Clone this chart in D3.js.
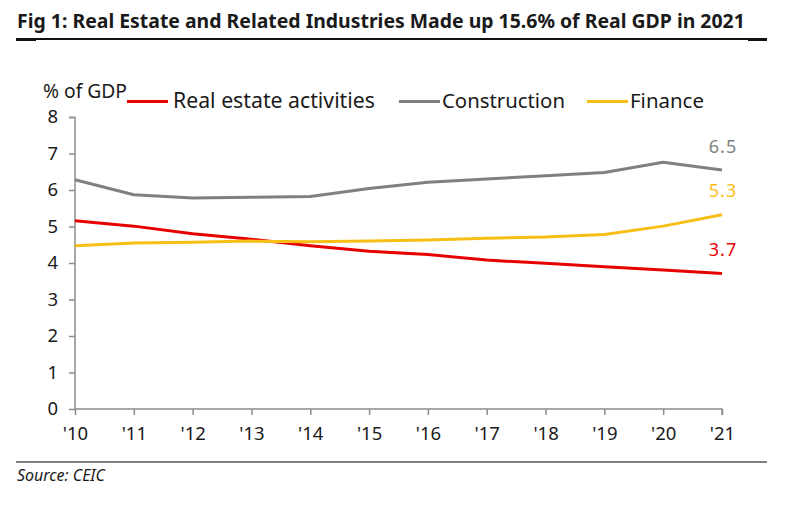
<!DOCTYPE html>
<html><head><meta charset="utf-8">
<script src="https://cdn.jsdelivr.net/npm/d3@7"></script>
<style>
html,body{margin:0;padding:0;background:#fff;}
svg{display:block;font-family:"Noto Sans","DejaVu Sans",sans-serif;}
</style></head>
<body>
<svg id="c" width="800" height="505"></svg>
<script>
const years = ["'10","'11","'12","'13","'14","'15","'16","'17","'18","'19","'20","'21"];
const realEstate = [5.16, 5.01, 4.80, 4.65, 4.47, 4.32, 4.23, 4.08, 3.99, 3.90, 3.81, 3.71];
const construction = [6.28, 5.87, 5.78, 5.80, 5.82, 6.04, 6.21, 6.30, 6.39, 6.48, 6.76, 6.55];
const finance = [4.47, 4.55, 4.57, 4.60, 4.58, 4.60, 4.63, 4.68, 4.71, 4.78, 5.01, 5.32];
const yTicks = [0,1,2,3,4,5,6,7,8];
const seriesNames = ["Real estate activities","Construction","Finance"];
const endLabels = ["3.7","6.5","5.3"];
const colors = ["#e60000","#808080","#f7bf16"];

const svg = d3.select("#c");
const x = d3.scalePoint().domain(years).range([75,722]);
const y = d3.scaleLinear().domain([0,8]).range([409,117]);

function fit(sel, w){
  const n = sel.node();
  let fs = parseFloat(sel.attr("font-size"));
  const cur = n.getComputedTextLength();
  sel.attr("font-size", (fs*w/cur).toFixed(2));
}

// Title
const t = svg.append("text").attr("x",17).attr("y",28).attr("font-size",20)
  .attr("font-weight","bold").attr("fill","#1a1a1a")
  .text("Fig 1: Real Estate and Related Industries Made up 15.6% of Real GDP in 2021");
fit(t, 728);
svg.append("line").attr("x1",16).attr("x2",767).attr("y1",39).attr("y2",39)
  .attr("stroke","#111").attr("stroke-width",2);
svg.append("line").attr("x1",16).attr("x2",36).attr("y1",39.5).attr("y2",39.5)
  .attr("stroke","#111").attr("stroke-width",3);
svg.append("line").attr("x1",748).attr("x2",767).attr("y1",39.5).attr("y2",39.5)
  .attr("stroke","#111").attr("stroke-width",3);

// Axes
const yAxis = svg.append("g").attr("transform","translate(75,0)")
  .call(d3.axisLeft(y).tickValues(yTicks).tickSize(6).tickPadding(11).tickFormat(d3.format("d")));
const xAxis = svg.append("g").attr("transform","translate(0,409)")
  .call(d3.axisBottom(x).tickSize(6).tickPadding(12).tickSizeOuter(6));
[yAxis,xAxis].forEach(a=>{
  a.selectAll("path,line").attr("stroke","#8c8c8c").attr("stroke-width",1.5);
  a.selectAll("text").attr("font-size",18.5).attr("fill","#1a1a1a")
   .attr("font-family","'Noto Sans','DejaVu Sans',sans-serif");
});
yAxis.select(".domain").attr("d","M-6,117.5H0V409.5");
xAxis.select(".domain").attr("d","M75,0V0H722V6");

// Lines
const allSeries = [realEstate, construction, finance];
const line = d3.line().x((d,i)=>x(years[i])).y(d=>y(d));
allSeries.forEach((s,k)=>{
  svg.append("path").datum(s).attr("d",line).attr("fill","none")
    .attr("stroke",colors[k]).attr("stroke-width",3).attr("stroke-linejoin","round");
});

// End labels
const endY = [256,153,197];
allSeries.forEach((s,k)=>{
  svg.append("text").attr("x",x(years[years.length-1])+1).attr("y",endY[k])
    .attr("text-anchor","middle").attr("font-size",18).attr("fill",colors[k])
    .attr("letter-spacing",1).text(endLabels[k]);
});

// Unit label
const u = svg.append("text").attr("x",43).attr("y",98).attr("font-size",17).attr("fill","#1a1a1a").text("% of GDP");
fit(u, 84);

// Legend
const legLines = [[127,168],[399,440],[587,628]];
const legText = [[173,202],[442,123],[630,74]];
seriesNames.forEach((nm,k)=>{
  svg.append("line").attr("x1",legLines[k][0]).attr("x2",legLines[k][1])
    .attr("y1",101.5).attr("y2",101.5).attr("stroke",colors[k]).attr("stroke-width",3);
  const tx = svg.append("text").attr("x",legText[k][0]).attr("y",108).attr("font-size",19)
    .attr("fill","#1a1a1a").text(nm);
  fit(tx, legText[k][1]);
});

// Source
svg.append("line").attr("x1",16).attr("x2",767).attr("y1",462).attr("y2",462)
  .attr("stroke","#555").attr("stroke-width",1.5);
const src = svg.append("text").attr("x",17).attr("y",481).attr("font-size",14).attr("font-style","italic")
  .attr("fill","#1a1a1a").text("Source: CEIC");
fit(src, 88);
</script>
</body></html>
